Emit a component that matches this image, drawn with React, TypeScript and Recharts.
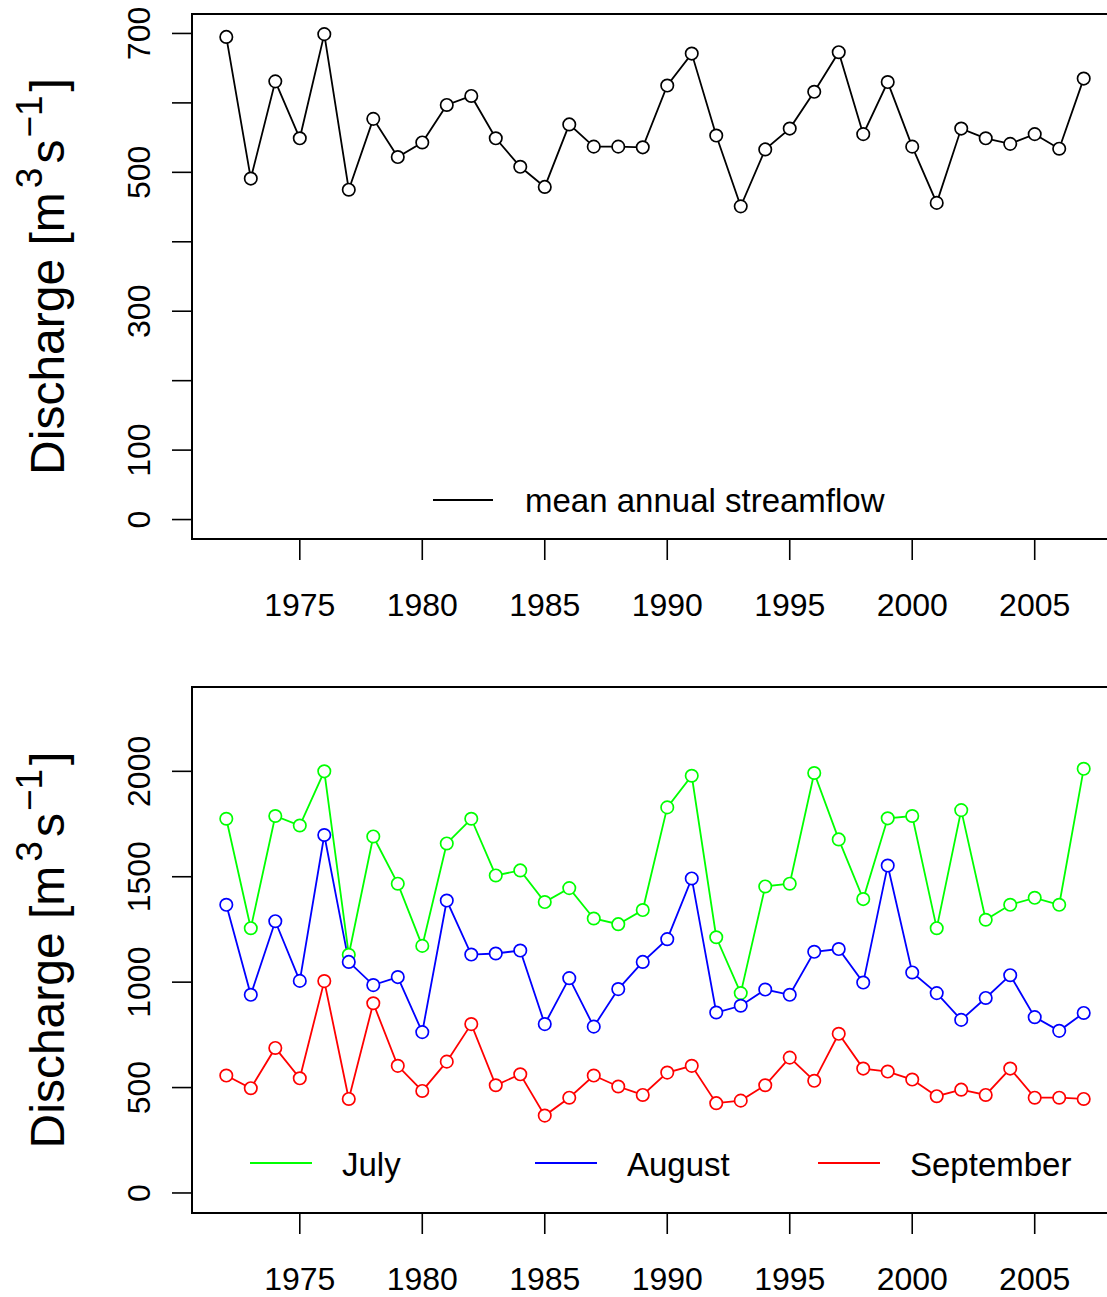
import React from "react";
import {
  LineChart,
  Line,
  XAxis,
  YAxis,
  ReferenceArea,
} from "recharts";

// hydrological years 1972–2007
const years = [
  1972, 1973, 1974, 1975, 1976, 1977, 1978, 1979, 1980, 1981, 1982, 1983,
  1984, 1985, 1986, 1987, 1988, 1989, 1990, 1991, 1992, 1993, 1994, 1995,
  1996, 1997, 1998, 1999, 2000, 2001, 2002, 2003, 2004, 2005, 2006, 2007,
];

// mean annual streamflow, m3/s
const annualMean = [
  695, 491, 631, 549, 699, 475, 577, 522, 543, 597, 610, 549,
  508, 479, 569, 537, 537, 536, 625, 671, 553, 451, 533, 563,
  616, 673, 555, 630, 537, 456, 563, 549, 541, 555, 534, 635,
];

// monthly means, m3/s
const july = [
  1775, 1256, 1788, 1743, 2000, 1130, 1691, 1467, 1172, 1658, 1775, 1506,
  1530, 1380, 1446, 1302, 1275, 1342, 1829, 1979, 1213, 948, 1454, 1467,
  1992, 1677, 1394, 1777, 1788, 1256, 1816, 1296, 1367, 1400, 1367, 2012,
];
const august = [
  1367, 940, 1289, 1006, 1698, 1096, 986, 1024, 763, 1387, 1131, 1136,
  1150, 801, 1019, 789, 967, 1096, 1204, 1492, 856, 888, 965, 940,
  1144, 1157, 998, 1553, 1046, 948, 821, 925, 1033, 834, 769, 854,
];
const september = [
  557, 497, 688, 544, 1005, 446, 900, 603, 484, 623, 801, 511,
  563, 367, 452, 557, 505, 465, 571, 603, 426, 438, 511, 642,
  532, 755, 590, 576, 538, 459, 490, 465, 590, 452, 452, 446,
];

const xTicks = [1975, 1980, 1985, 1990, 1995, 2000, 2005];
const xDomain: [number, number] = [1970.6, 2008.4];

const topYTicks = [0, 100, 200, 300, 400, 500, 600, 700];
const topYLabelled = [0, 100, 300, 500, 700];
const topYDomain: [number, number] = [-28, 728];

const bottomYTicks = [0, 500, 1000, 1500, 2000];
const bottomYDomain: [number, number] = [-95, 2400];

const topLegend = ["mean annual streamflow"];
const bottomLegend = ["July", "August", "September"];
const monthColors = ["#00ff00", "#0000ff", "#ff0000"];

const FONT = '"Liberation Sans", Arial, Helvetica, sans-serif';

const annualRows = years.map((year, i) => ({ year, value: annualMean[i] }));
const monthlyRows = years.map((year, i) => ({
  year,
  july: july[i],
  august: august[i],
  september: september[i],
}));

const XTick = (props: any) => {
  const { x, y, payload } = props;
  return (
    <text x={x} y={y} dy={54} textAnchor="middle" fontSize={32} fontFamily={FONT} fill="#000">
      {payload.value}
    </text>
  );
};

const makeYTick = (labelled: number[]) => (props: any) => {
  const { x, y, payload } = props;
  if (!labelled.includes(payload.value)) return <g />;
  const bx = x - 20;
  return (
    <text
      x={bx}
      y={y}
      transform={`rotate(-90, ${bx}, ${y})`}
      textAnchor="middle"
      fontSize={32}
      fontFamily={FONT}
      fill="#000"
    >
      {payload.value}
    </text>
  );
};

const YTitle = (props: any) => {
  const vb = props.viewBox || {};
  const cy = vb.y + vb.height / 2;
  const bx = 64;
  return (
    <text
      x={bx}
      y={cy}
      transform={`rotate(-90, ${bx}, ${cy})`}
      textAnchor="middle"
      fontSize={48}
      fontFamily={FONT}
      fill="#000"
    >
      Discharge [m
      <tspan dx={4} dy={-22} fontSize={37}>3</tspan>
      <tspan dx={4} dy={22}>s</tspan>
      <tspan dx={2} dy={-22} fontSize={37}>−1</tspan>
      <tspan dx={4} dy={22}>]</tspan>
    </text>
  );
};

const tickLine = { stroke: "#000", strokeWidth: 1.6 };

export default function App() {
  return (
    <div
      style={{
        position: "absolute",
        left: 0,
        top: 0,
        width: 1107,
        height: 1297,
        overflow: "hidden",
        background: "#fff",
      }}
    >
      {/* annual series */}
      <div style={{ position: "absolute", left: 0, top: 0 }}>
        <LineChart
          width={1118}
          height={640}
          data={annualRows}
          margin={{ top: 14, right: 0, bottom: 11, left: 0 }}
        >
          <XAxis
            type="number"
            dataKey="year"
            domain={xDomain}
            ticks={xTicks}
            allowDataOverflow
            axisLine={false}
            tickLine={tickLine}
            tickSize={21}
            height={90}
            tick={<XTick />}
          />
          <YAxis
            type="number"
            domain={topYDomain}
            ticks={topYTicks}
            allowDataOverflow
            axisLine={false}
            tickLine={tickLine}
            tickSize={20}
            width={192}
            tick={makeYTick(topYLabelled)}
            label={(p: any) => <YTitle {...p} />}
          />
          <ReferenceArea
            x1={xDomain[0]}
            x2={xDomain[1]}
            y1={topYDomain[0]}
            y2={topYDomain[1]}
            fill="#fff"
            fillOpacity={0}
            stroke="#000"
            strokeWidth={2}
            ifOverflow="visible"
          />
          <Line
            type="linear"
            dataKey="value"
            stroke="#000"
            strokeWidth={1.8}
            dot={{ r: 6.2, fill: "#fff", stroke: "#000", strokeWidth: 1.7 }}
            isAnimationActive={false}
          />
        </LineChart>
      </div>

      {/* monthly series */}
      <div style={{ position: "absolute", left: 0, top: 660 }}>
        <LineChart
          width={1118}
          height={637}
          data={monthlyRows}
          margin={{ top: 27, right: 0, bottom: 0, left: 0 }}
        >
          <XAxis
            type="number"
            dataKey="year"
            domain={xDomain}
            ticks={xTicks}
            allowDataOverflow
            axisLine={false}
            tickLine={tickLine}
            tickSize={21}
            height={84}
            tick={<XTick />}
          />
          <YAxis
            type="number"
            domain={bottomYDomain}
            ticks={bottomYTicks}
            allowDataOverflow
            axisLine={false}
            tickLine={tickLine}
            tickSize={20}
            width={192}
            tick={makeYTick(bottomYTicks)}
            label={(p: any) => <YTitle {...p} />}
          />
          <ReferenceArea
            x1={xDomain[0]}
            x2={xDomain[1]}
            y1={bottomYDomain[0]}
            y2={bottomYDomain[1]}
            fill="#fff"
            fillOpacity={0}
            stroke="#000"
            strokeWidth={2}
            ifOverflow="visible"
          />
          {["july", "august", "september"].map((key, i) => (
            <Line
              key={key}
              type="linear"
              dataKey={key}
              stroke={monthColors[i]}
              strokeWidth={1.8}
              dot={{ r: 6.2, fill: "#fff", stroke: monthColors[i], strokeWidth: 1.7 }}
              isAnimationActive={false}
            />
          ))}
        </LineChart>
      </div>

      {/* legends */}
      <svg
        width={1107}
        height={1297}
        style={{ position: "absolute", left: 0, top: 0, pointerEvents: "none" }}
      >
        <line x1={433} x2={493} y1={500} y2={500} stroke="#000" strokeWidth={1.8} />
        <text x={525} y={512} fontSize={33} fontFamily={FONT} fill="#000">
          {topLegend[0]}
        </text>
        {bottomLegend.map((name, i) => {
          const lx = [250, 535, 818][i];
          return (
            <g key={name}>
              <line x1={lx} x2={lx + 62} y1={1163} y2={1163} stroke={monthColors[i]} strokeWidth={1.8} />
              <text x={lx + 92} y={1176} fontSize={33} fontFamily={FONT} fill="#000">
                {name}
              </text>
            </g>
          );
        })}
      </svg>
    </div>
  );
}
